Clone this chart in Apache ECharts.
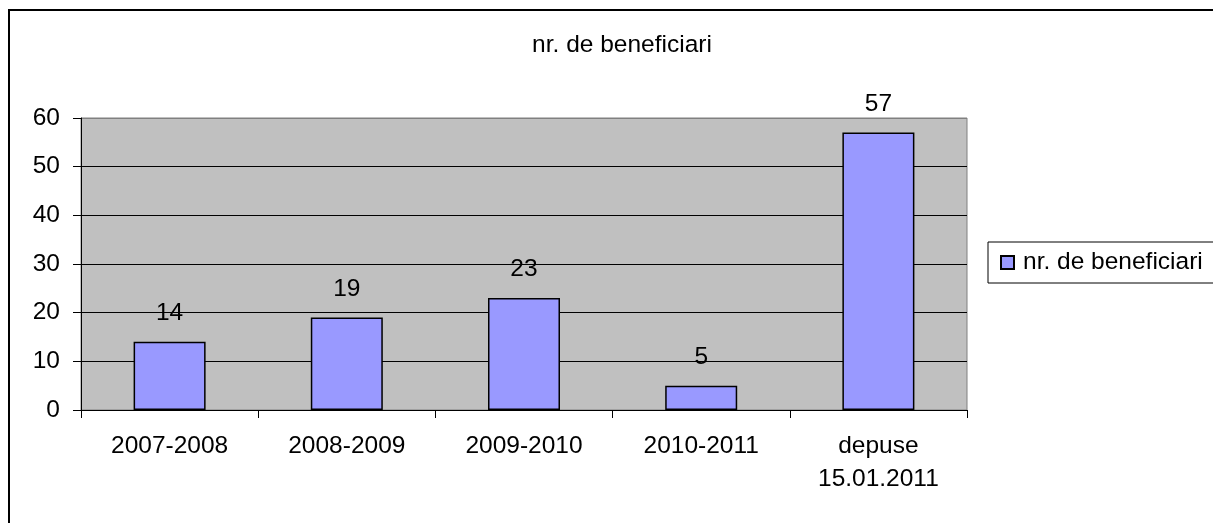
<!DOCTYPE html>
<html>
  <head>
    <meta charset="utf-8" />
    <title>nr. de beneficiari</title>
    <script src="https://cdn.jsdelivr.net/npm/echarts@6/dist/echarts.min.js"></script>
    <style>
      * {
        padding: 0;
        margin: 0;
      }
      #chart-panel {
        width: 1213px;
        height: 523px;
        background: #fff;
      }
    </style>
  </head>
  <body>
    <div id="chart-panel"></div>
    <script type="text/javascript">
      var myChart = echarts.init(document.getElementById("chart-panel"));

      // data
      const categories = ["2007-2008", "2008-2009", "2009-2010", "2010-2011", "depuse\n15.01.2011"];
      const beneficiari = [14, 19, 23, 5, 57];
      const seriesName = "nr. de beneficiari";

      var font = "Liberation Sans, Arial, sans-serif";
      var fs = 24.5;

      var option = {
        animation: false,
        textStyle: { fontFamily: font },
        // outer frame of the chart
        graphic: [
          {
            type: "rect",
            shape: { x: 9, y: 10, width: 1400, height: 700 },
            style: { fill: "none", stroke: "#000", lineWidth: 2 },
            silent: true,
          },
        ],
        title: {
          text: seriesName,
          left: 617,
          top: 28,
          textAlign: "center",
          textStyle: {
            fontFamily: font,
            fontSize: fs,
            fontWeight: "normal",
            color: "#000",
          },
        },
        legend: {
          data: [seriesName],
          left: 988,
          top: 242,
          orient: "vertical",
          icon: "rect",
          itemWidth: 13,
          itemHeight: 13,
          padding: [8, 60, 8, 12],
          borderColor: "#000",
          borderWidth: 1,
          textStyle: { fontFamily: font, fontSize: fs, color: "#000", padding: [0, 0, 0, 4] },
        },
        grid: {
          left: 81,
          top: 118,
          width: 886,
          height: 292,
          show: true,
          backgroundColor: "#C0C0C0",
          borderColor: "#808080",
          borderWidth: 1,
        },
        xAxis: {
          type: "category",
          data: categories,
          axisLine: { lineStyle: { color: "#000", width: 1 } },
          axisTick: { show: true, length: 8, lineStyle: { color: "#000" } },
          axisLabel: {
            color: "#000",
            fontFamily: font,
            fontSize: fs,
            lineHeight: 33,
            margin: 20,
            interval: 0,
          },
        },
        yAxis: {
          type: "value",
          min: 0,
          max: 60,
          interval: 10,
          axisLine: { show: true, lineStyle: { color: "#000" } },
          axisTick: { show: true, length: 8, lineStyle: { color: "#000" } },
          axisLabel: { color: "#000", fontFamily: font, fontSize: fs, margin: 21 },
          // top line (60) is the gray plot border in the original
          splitLine: {
            show: true,
            lineStyle: { color: ["#000", "#000", "#000", "#000", "#000", "#000", "#808080"], width: 1 },
          },
        },
        series: [
          {
            name: seriesName,
            type: "bar",
            data: beneficiari,
            barWidth: 72,
            itemStyle: {
              color: "#9999FF",
              borderColor: "#000",
              borderWidth: 1.5,
            },
            label: {
              show: true,
              position: "top",
              distance: 16,
              color: "#000",
              fontFamily: font,
              fontSize: fs,
            },
          },
        ],
      };

      if (option && typeof option === "object") {
        myChart.setOption(option);
      }
    </script>
  </body>
</html>
